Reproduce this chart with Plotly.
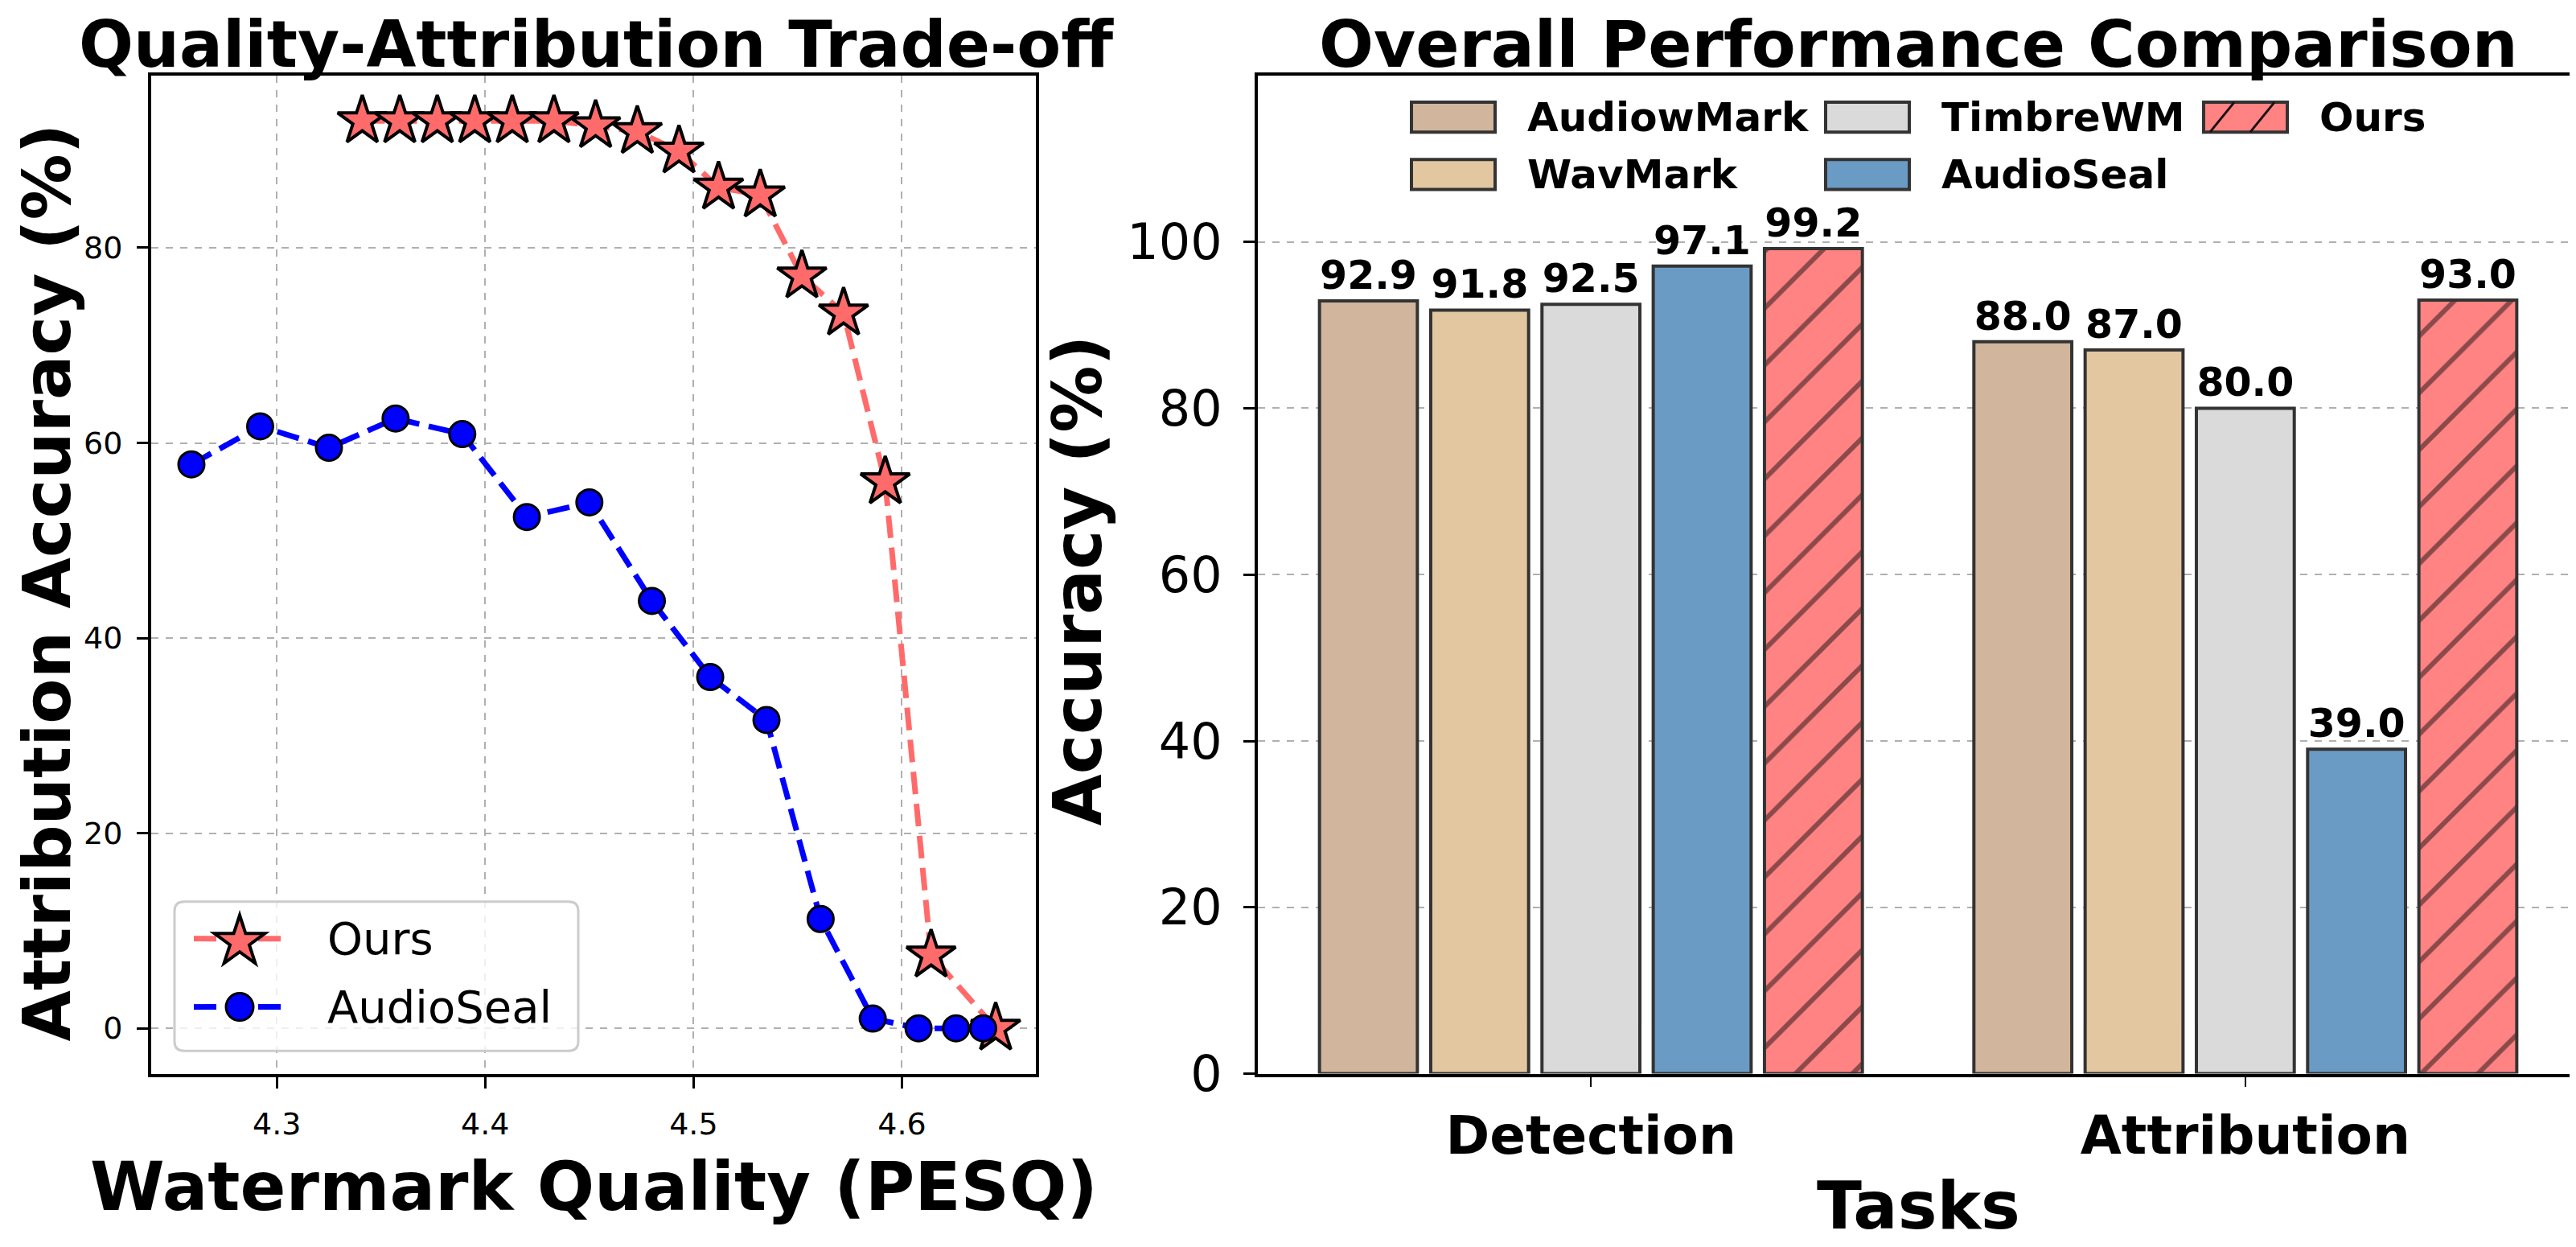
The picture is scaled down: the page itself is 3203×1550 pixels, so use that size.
import math
import plotly.graph_objects as go

# ---------------- data ----------------
ours_pesq = [4.341, 4.359, 4.377, 4.395, 4.413, 4.433, 4.453, 4.473, 4.493, 4.512,
             4.532, 4.552, 4.572, 4.592, 4.614, 4.645]
ours_acc = [93.0, 93.0, 93.0, 93.0, 93.0, 93.0, 92.5, 91.9, 89.9, 86.2,
            85.4, 77.1, 73.3, 56.0, 7.5, 0.0]
audioseal_pesq = [4.259, 4.292, 4.325, 4.357, 4.389, 4.420, 4.450, 4.480, 4.508,
                  4.535, 4.561, 4.586, 4.608, 4.626, 4.639]
audioseal_acc = [57.8, 61.7, 59.5, 62.5, 60.9, 52.4, 53.9, 43.8, 36.0,
                 31.6, 11.2, 1.0, 0.0, 0.0, 0.0]

tasks = ["Detection", "Attribution"]
methods = ["AudiowMark", "WavMark", "TimbreWM", "AudioSeal", "Ours"]
audiowmark_acc = [92.9, 88.0]
wavmark_acc = [91.8, 87.0]
timbrewm_acc = [92.5, 80.0]
audioseal_task_acc = [97.1, 39.0]
ours_task_acc = [99.2, 93.0]

line_series = ["Ours", "AudioSeal"]
pesq_ticks = [4.3, 4.4, 4.5, 4.6]
attr_ticks = [0, 20, 40, 60, 80]
acc_ticks = [0, 20, 40, 60, 80, 100]

# ---------------- style ----------------
FONT = "DejaVu Sans"
W, H = 3203, 1550
bar_colors = ["#D1B59C", "#E3C7A0", "#DADADA", "#6A9BC4", "#FF8383"]
EDGE = "#333333"
GRID = "#B0B0B0"
HATCH = "#1A1010"
OURS_RED = "#FF6B6B"
SEAL_BLUE = "#0000FF"
DASH = "28px,12px"


def px_x(p):
    return p / W


def px_y(p):
    return 1 - p / H


fig = go.Figure()

# ---- left: trade-off lines ----
fig.add_trace(go.Scatter(
    x=ours_pesq, y=ours_acc, name=line_series[0], mode="lines+markers",
    line=dict(color=OURS_RED, width=7, dash=DASH),
    marker=dict(symbol="star", size=46, color=OURS_RED,
                line=dict(color="black", width=4)),
    xaxis="x", yaxis="y", cliponaxis=False, showlegend=False))
fig.add_trace(go.Scatter(
    x=audioseal_pesq, y=audioseal_acc, name=line_series[1], mode="lines+markers",
    line=dict(color=SEAL_BLUE, width=7, dash=DASH),
    marker=dict(symbol="circle", size=32, color=SEAL_BLUE,
                line=dict(color="black", width=3)),
    xaxis="x", yaxis="y", cliponaxis=False, showlegend=False))

# ---- right: grouped bars ----
bar_series = [audiowmark_acc, wavmark_acc, timbrewm_acc, audioseal_task_acc, ours_task_acc]
for name, vals, col in zip(methods, bar_series, bar_colors):
    marker = dict(color=col, line=dict(color=EDGE, width=4))
    if name == "Ours":
        marker["pattern"] = dict(shape="/", fgcolor=HATCH, bgcolor=col,
                                 size=50, solidity=0.12)
    fig.add_trace(go.Bar(
        x=tasks, y=vals, name=name, marker=marker,
        texttemplate="%{y:.1f}", textposition="outside",
        textfont=dict(family=FONT, size=49, color="black", weight="bold"),
        constraintext="none", cliponaxis=False, showlegend=False,
        xaxis="x2", yaxis="y2"))

# axis ranges like matplotlib's 5% margins
xs = ours_pesq + audioseal_pesq
ys = ours_acc + audioseal_acc
xspan = max(xs) - min(xs)
yspan = max(ys) - min(ys)
xr = [min(xs) - 0.05 * xspan, max(xs) + 0.05 * xspan]
yr = [min(ys) - 0.05 * yspan, max(ys) + 0.05 * yspan]

ydom = [px_y(1359), px_y(88)]
axis_common = dict(showline=True, linecolor="black", linewidth=4, mirror=True,
                   ticks="outside", tickcolor="black", zeroline=False)

fig.update_layout(
    width=W, height=H, paper_bgcolor="white", plot_bgcolor="white",
    margin=dict(l=0, r=0, t=0, b=0),
    font=dict(family=FONT, color="black"),
    showlegend=False,
    barmode="group", bargap=0.15, bargroupgap=0.12,
    xaxis=dict(domain=[px_x(180), px_x(1280)], range=xr, tickvals=pesq_ticks,
               tickformat=".1f", ticklen=14, tickwidth=3,
               tickfont=dict(size=38), ticklabelstandoff=12,
               showgrid=True, gridcolor=GRID, griddash="dash", gridwidth=2,
               anchor="y", **axis_common),
    yaxis=dict(domain=ydom, range=yr, tickvals=attr_ticks, ticklen=14, tickwidth=3,
               tickfont=dict(size=38), ticklabelstandoff=10,
               showgrid=True, gridcolor=GRID, griddash="dash", gridwidth=2,
               anchor="x", **axis_common),
    xaxis2=dict(domain=[px_x(1556), px_x(3198)], type="category",
                range=[-0.509, 1.509], ticklen=12, tickwidth=2,
                tickfont=dict(size=66, weight="bold"), ticklabelstandoff=4,
                showgrid=False, anchor="y2", **axis_common),
    yaxis2=dict(domain=ydom, range=[0, 120], tickvals=acc_ticks, ticklen=14,
                tickwidth=3, tickfont=dict(size=62), ticklabelstandoff=14,
                showgrid=True, gridcolor=GRID, griddash="dash", gridwidth=2,
                anchor="x2", **axis_common),
)

annotations = []
shapes = []


def add_text(text, x, y, size, angle=0, xanchor="center"):
    annotations.append(dict(text=text, x=x, y=y, xref="paper", yref="paper",
                            showarrow=False, textangle=angle, xanchor=xanchor,
                            yanchor="middle",
                            font=dict(family=FONT, size=size, color="black")))


add_text("<b>Quality-Attribution Trade-off</b>", px_x(733), px_y(49), 80)
add_text("<b>Overall Performance Comparison</b>", px_x(2377), px_y(49), 80)
add_text("<b>Watermark Quality (PESQ)</b>", px_x(730), px_y(1503), 84)
add_text("<b>Tasks</b>", px_x(2377), px_y(1527), 82)
add_text("<b>Attribution Accuracy (%)</b>", px_x(50), px_y(734), 82, angle=-90)
add_text("<b>Accuracy (%)</b>", px_x(1333), px_y(731), 83, angle=-90)

# ---- legend of the left panel (drawn as decoration) ----
bx0, bx1, by0, by1, rad = 209, 711, 1140, 1330, 12


def P(x, y):
    return "%.6f,%.6f" % (px_x(x), px_y(y))


box_path = ("M" + P(bx0 + rad, by0) + " L" + P(bx1 - rad, by0) +
            " Q" + P(bx1, by0) + " " + P(bx1, by0 + rad) +
            " L" + P(bx1, by1 - rad) + " Q" + P(bx1, by1) + " " + P(bx1 - rad, by1) +
            " L" + P(bx0 + rad, by1) + " Q" + P(bx0, by1) + " " + P(bx0, by1 - rad) +
            " L" + P(bx0, by0 + rad) + " Q" + P(bx0, by0) + " " + P(bx0 + rad, by0) + " Z")
shapes.append(dict(type="path", xref="paper", yref="paper", path=box_path,
                   fillcolor="rgba(255,255,255,0.8)", line=dict(color="#CCCCCC", width=3)))

leg_rows = [1187, 1274]
seg_x0, seg_x1, mark_x = 233, 348, 290
for name, yc, col in zip(line_series, leg_rows, [OURS_RED, SEAL_BLUE]):
    shapes.append(dict(type="line", xref="paper", yref="paper",
                       x0=px_x(seg_x0), x1=px_x(seg_x1), y0=px_y(yc), y1=px_y(yc),
                       line=dict(color=col, width=7, dash=DASH)))
    if name == "Ours":
        R, r = 33, 33 * 0.382
        pts = []
        for k in range(10):
            ang = math.pi / 2 + k * math.pi / 5
            rr = R if k % 2 == 0 else r
            pts.append("%.2f,%.2f" % (rr * math.cos(ang), rr * math.sin(ang)))
        star_path = "M" + " L".join(pts) + " Z"
        shapes.append(dict(type="path", xref="paper", yref="paper",
                           xsizemode="pixel", ysizemode="pixel",
                           xanchor=px_x(mark_x), yanchor=px_y(yc + 4),
                           path=star_path, fillcolor=OURS_RED,
                           line=dict(color="black", width=4)))
    else:
        shapes.append(dict(type="circle", xref="paper", yref="paper",
                           xsizemode="pixel", ysizemode="pixel",
                           xanchor=px_x(mark_x), yanchor=px_y(yc),
                           x0=-17, x1=17, y0=-17, y1=17,
                           fillcolor=SEAL_BLUE, line=dict(color="black", width=3)))
    add_text(name, px_x(397), px_y(yc), 56, xanchor="left")

# ---- legend of the bar chart (column-major, like the source) ----
col_left = [1747, 2262, 2732]
row_mid = [141, 214]
patch_w, patch_h = 104, 38
slots = [(0, 0), (0, 1), (1, 0), (1, 1), (2, 0)]
for (ci, ri), name, col in zip(slots, methods, bar_colors):
    x0 = col_left[ci]
    yc = row_mid[ri]
    shapes.append(dict(type="rect", xref="paper", yref="paper",
                       x0=px_x(x0), x1=px_x(x0 + patch_w),
                       y0=px_y(yc + patch_h / 2), y1=px_y(yc - patch_h / 2),
                       fillcolor=col, line=dict(color=EDGE, width=4)))
    if name == "Ours":
        for off in (8, 58):
            shapes.append(dict(type="line", xref="paper", yref="paper",
                               x0=px_x(x0 + off), x1=px_x(x0 + off + 30),
                               y0=px_y(yc + patch_h / 2), y1=px_y(yc - patch_h / 2),
                               line=dict(color=HATCH, width=3)))
    add_text("<b>%s</b>" % name, px_x(x0 + 142), px_y(yc), 50, xanchor="left")

fig.update_layout(annotations=annotations, shapes=shapes)
fig.write_html("out.html")
